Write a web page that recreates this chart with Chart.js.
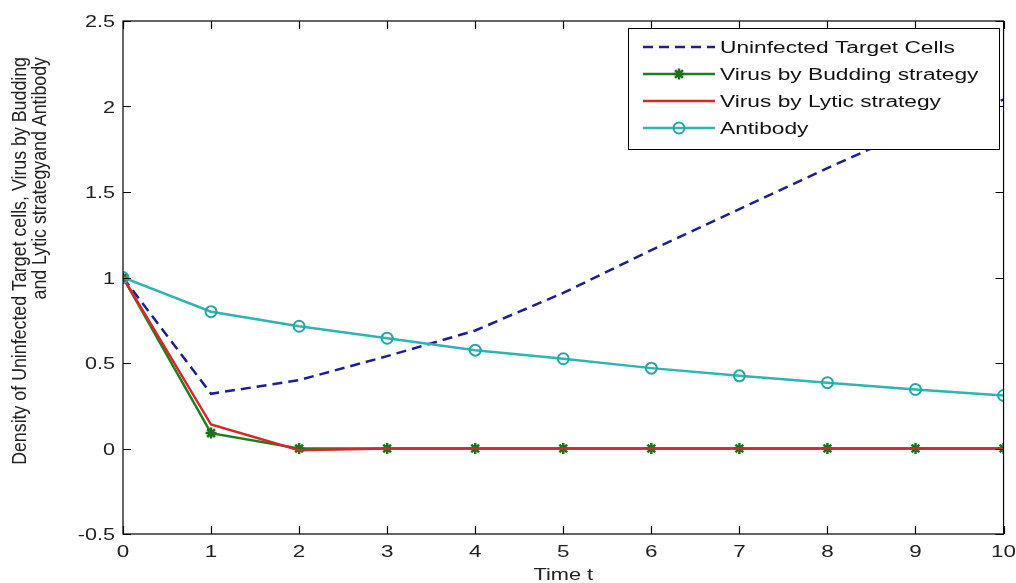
<!DOCTYPE html>
<html>
<head>
<meta charset="utf-8">
<script src="https://cdn.jsdelivr.net/npm/chart.js@4.4.1/dist/chart.umd.min.js"></script>
<style>
  html, body { margin: 0; padding: 0; background: #fff; }
  #wrap { width: 1016px; height: 583px; }
</style>
</head>
<body>
<div id="wrap"><canvas id="chart"></canvas></div>
<script>
// values
const timeT = [0, 1, 2, 3, 4, 5, 6, 7, 8, 9, 10];
const uninfected = [1, 0.32, 0.40, 0.54, 0.69, 0.91, 1.16, 1.40, 1.64, 1.87, 2.04];
const budding = [1, 0.09, 0, 0, 0, 0, 0, 0, 0, 0, 0];
const lytic = [1, 0.14, -0.01, 0, 0, 0, 0, 0, 0, 0, 0];
const antibody = [1, 0.80, 0.715, 0.645, 0.575, 0.525, 0.47, 0.425, 0.385, 0.345, 0.31];

const seriesNames = ['Uninfected Target Cells', 'Virus by Budding strategy', 'Virus by Lytic strategy', 'Antibody'];
const yTitleLines = ['Density of Uninfected Target cells, Virus by Budding', 'and Lytic strategyand Antibody'];
const xTitle = 'Time t';

const FONT = '"Liberation Sans", Arial, sans-serif';
const pts = arr => timeT.map((t, i) => ({ x: t, y: arr[i] }));

// the original figure is stretched sideways, so horizontal text is widened
function wideText(ctx, text, x, y, align, sx) {
  ctx.save();
  ctx.translate(x, y);
  ctx.scale(sx, 1);
  ctx.textAlign = align;
  ctx.fillText(text, 0, 0);
  ctx.restore();
}

// MATLAB-style box with inward ticks on all four sides, tick labels, titles and legend
const boxPlugin = {
  id: 'box',
  afterDatasetsDraw(chart) {
    const { ctx, chartArea: a, scales: { x, y } } = chart;
    ctx.save();
    ctx.strokeStyle = '#000';
    ctx.lineWidth = 1.2;
    ctx.strokeRect(a.left, a.top, a.right - a.left, a.bottom - a.top);
    const len = 8;
    ctx.beginPath();
    x.ticks.forEach(t => {
      const px = Math.round(x.getPixelForValue(t.value)) + 0.5;
      ctx.moveTo(px, a.bottom); ctx.lineTo(px, a.bottom - len);
      ctx.moveTo(px, a.top); ctx.lineTo(px, a.top + len);
    });
    y.ticks.forEach(t => {
      const py = Math.round(y.getPixelForValue(t.value)) + 0.5;
      ctx.moveTo(a.left, py); ctx.lineTo(a.left + len, py);
      ctx.moveTo(a.right, py); ctx.lineTo(a.right - len, py);
    });
    ctx.stroke();

    // tick labels
    ctx.fillStyle = '#222';
    ctx.font = '17px ' + FONT;
    ctx.textBaseline = 'alphabetic';
    x.ticks.forEach(t => {
      wideText(ctx, String(+t.value.toFixed(2)), x.getPixelForValue(t.value), a.bottom + 23, 'center', 1.32);
    });
    y.ticks.forEach(t => {
      wideText(ctx, String(+t.value.toFixed(2)), a.left - 8, y.getPixelForValue(t.value) + 6, 'right', 1.27);
    });

    // legend
    const lx = 628, ly = 28, lw = 371, lh = 121;
    ctx.fillStyle = '#fff';
    ctx.fillRect(lx, ly, lw, lh);
    ctx.strokeStyle = '#000';
    ctx.lineWidth = 1;
    ctx.strokeRect(lx + 0.5, ly + 0.5, lw, lh);
    ctx.font = '16px ' + FONT;
    chart.data.datasets.forEach((ds, i) => {
      const ry = ly + 19 + i * 27;
      ctx.save();
      ctx.strokeStyle = ds.borderColor;
      ctx.lineWidth = ds.borderWidth;
      ctx.setLineDash(ds.borderDash || []);
      ctx.beginPath();
      ctx.moveTo(lx + 15, ry); ctx.lineTo(lx + 87, ry);
      ctx.stroke();
      ctx.restore();
      if (ds.pointRadius > 0) {
        ctx.save();
        ctx.strokeStyle = ds.pointBorderColor;
        ctx.fillStyle = ds.pointBackgroundColor;
        ctx.lineWidth = ds.pointBorderWidth;
        Chart.helpers.drawPoint(ctx, {
          pointStyle: ds.pointStyle, radius: ds.pointRadius, borderWidth: ds.pointBorderWidth, rotation: 0
        }, lx + 51, ry);
        ctx.restore();
      }
      ctx.fillStyle = '#111';
      ctx.textBaseline = 'alphabetic';
      wideText(ctx, ds.label, lx + 92, ry + 6, 'left', 1.42);
    });

    // axis titles
    ctx.fillStyle = '#222';
    ctx.font = '17px ' + FONT;
    wideText(ctx, xTitle, (a.left + a.right) / 2, 580, 'center', 1.28);
    ctx.font = '17.8px ' + FONT;
    ctx.textBaseline = 'middle';
    ctx.save();
    ctx.translate(20, 57);
    ctx.scale(1.15, 1);
    ctx.rotate(-Math.PI / 2);
    ctx.textAlign = 'right';
    ctx.fillText(yTitleLines[0], 0, 0);
    ctx.fillText(yTitleLines[1], 0, 18);
    ctx.restore();
    ctx.restore();
  }
};

new Chart(document.getElementById('chart'), {
  type: 'line',
  data: {
    datasets: [
      {
        label: seriesNames[0], data: pts(uninfected), order: 3,
        borderColor: '#1e1e8c', borderWidth: 2.5, borderDash: [10, 6],
        pointRadius: 0, tension: 0
      },
      {
        label: seriesNames[1], data: pts(budding), order: 2,
        borderColor: '#1f7f1f', borderWidth: 2.5,
        pointStyle: 'star', pointRadius: 5.5, pointBorderWidth: 2.5,
        pointBorderColor: '#1f6f1f', pointBackgroundColor: '#1f6f1f', tension: 0
      },
      {
        label: seriesNames[2], data: pts(lytic), order: 1,
        borderColor: '#d22a2a', borderWidth: 2.5,
        pointRadius: 0, tension: 0
      },
      {
        label: seriesNames[3], data: pts(antibody), order: 0,
        borderColor: '#2fb3b3', borderWidth: 2.5,
        pointStyle: 'circle', pointRadius: 5.5, pointBorderWidth: 2,
        pointBorderColor: '#2aa5a5', pointBackgroundColor: 'rgba(0,0,0,0)', tension: 0
      }
    ]
  },
  plugins: [boxPlugin],
  options: {
    responsive: true,
    maintainAspectRatio: false,
    animation: false,
    layout: { padding: { top: 21, right: 9, left: 0, bottom: 0 } },
    plugins: { legend: { display: false }, tooltip: { enabled: false } },
    scales: {
      x: {
        type: 'linear', min: 0, max: 10,
        ticks: { stepSize: 1, color: 'rgba(0,0,0,0)', font: { family: FONT, size: 17 }, maxRotation: 0 },
        grid: { display: false }, border: { display: false },
        afterFit: s => { s.height = 49; }
      },
      y: {
        min: -0.5, max: 2.5,
        ticks: { stepSize: 0.5, color: 'rgba(0,0,0,0)', font: { family: FONT, size: 17 } },
        grid: { display: false }, border: { display: false },
        afterFit: s => { s.width = 123; }
      }
    }
  }
});
</script>
</body>
</html>
